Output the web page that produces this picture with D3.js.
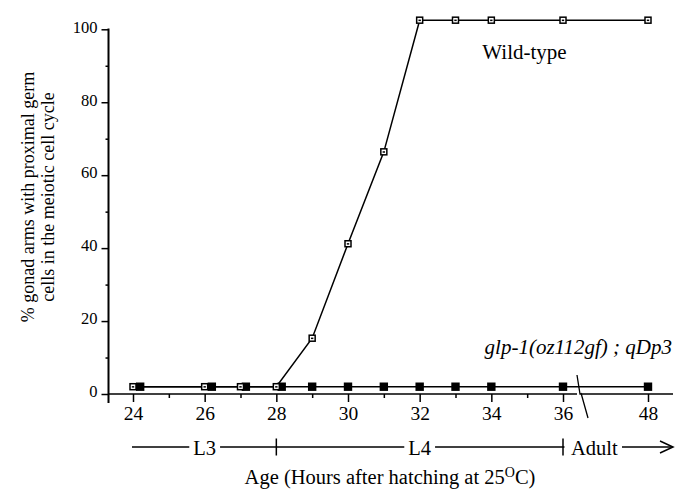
<!DOCTYPE html>
<html>
<head>
<meta charset="utf-8">
<script src="https://cdn.jsdelivr.net/npm/d3@7"></script>
<style>
  body { margin: 0; background: #fff; }
  svg text { font-family: 'Liberation Serif', 'Times New Roman', serif; fill: #000; }
  .axis path { display: none; }
  .axis line { stroke: #000; stroke-width: 1.5; }
</style>
</head>
<body>
<svg width="683" height="489"></svg>
<script>
// data
const wildHours = [24, 26, 27, 28, 29, 30, 31, 32, 33, 34, 36, 48]
const wildValues = [2, 2, 2, 2, 15.3, 41.2, 66.4, 102.5, 102.5, 102.5, 102.5, 102.5]
const glpHours = [24.2, 26.2, 27.15, 28.15, 29, 30, 31, 32, 33, 34, 36, 48]
const glpValues = [2, 2, 2, 2, 2, 2, 2, 2, 2, 2, 2, 2]
const xTicks = [24, 26, 28, 30, 32, 34, 36, 48]
const xMinorTicks = [25, 27, 29, 31, 33, 35]
const yTicks = [0, 20, 40, 60, 80, 100]
const yMinorTicks = [10, 30, 50, 70, 90]
const stageBounds = [24, 28, 36]
const stageLabels = ["L3", "L4", "Adult"]

const svg = d3.select('svg')
const serif = 'Liberation Serif'

// scales (x axis is broken between 36 and 48)
const xScale = d3.scaleLinear()
    .domain([24, 36, 48])
    .range([133, 563, 648])
const yScale = d3.scaleLinear()
    .domain([0, 100])
    .range([394, 29.3])

const axisX0 = 108.5
const baseY = yScale(0)

// y axis
svg.append('line')
    .attr('x1', axisX0).attr('x2', axisX0)
    .attr('y1', yScale(100) - 0.7).attr('y2', baseY + 9)
    .attr('stroke', '#000').attr('stroke-width', 2)

const yAxis = svg.append('g')
    .attr('class', 'axis')
    .attr('transform', `translate(${axisX0},0)`)
    .call(d3.axisLeft(yScale).tickValues(yTicks).tickSize(7).tickPadding(4))
    .attr('font-family', serif)
    .attr('font-size', 16.5)
yAxis.selectAll('text').attr('y', -2.5)

svg.append('g')
    .attr('class', 'axis')
    .attr('transform', `translate(${axisX0},0)`)
    .call(d3.axisLeft(yScale).tickValues(yMinorTicks).tickSize(3).tickFormat(''))

// x axis line, with a break before 48
const breakX = 577
svg.append('line')
    .attr('x1', axisX0).attr('x2', breakX)
    .attr('y1', baseY).attr('y2', baseY)
    .attr('stroke', '#000').attr('stroke-width', 1.5)
svg.append('line')
    .attr('x1', breakX + 7).attr('x2', 673)
    .attr('y1', baseY).attr('y2', baseY)
    .attr('stroke', '#000').attr('stroke-width', 1.5)
svg.append('path')
    .attr('d', `M${breakX},${baseY - 19} L${breakX + 3},${baseY} L${breakX + 7},${baseY} M${breakX + 4},${baseY - 1} L${breakX + 11},${baseY + 24}`)
    .attr('fill', 'none')
    .attr('stroke', '#000').attr('stroke-width', 1.3)

const xAxis = svg.append('g')
    .attr('class', 'axis')
    .attr('transform', `translate(0,${baseY})`)
    .call(d3.axisBottom(xScale).tickValues(xTicks).tickSize(8))
    .attr('font-family', serif)
    .attr('font-size', 19.5)
xAxis.selectAll('text').attr('y', 26).attr('dy', 0)

svg.append('g')
    .attr('class', 'axis')
    .attr('transform', `translate(0,${baseY})`)
    .call(d3.axisBottom(xScale).tickValues(xMinorTicks).tickSize(4).tickFormat(''))

// lines
const lineGen = d3.line()
    .x(d => xScale(d[0]))
    .y(d => yScale(d[1]))

const glpData = d3.zip(glpHours, glpValues)
const wildData = d3.zip(wildHours, wildValues)

svg.append('path')
    .datum(glpData)
    .attr('d', lineGen)
    .attr('fill', 'none')
    .attr('stroke', '#000').attr('stroke-width', 1.5)

svg.append('g')
    .selectAll('rect')
    .data(glpData)
    .enter()
    .append('rect')
    .attr('x', d => xScale(d[0]) - 4.2)
    .attr('y', d => yScale(d[1]) - 4.2)
    .attr('width', 8.4).attr('height', 8.4)
    .attr('fill', '#000')

svg.append('path')
    .datum(wildData)
    .attr('d', lineGen)
    .attr('fill', 'none')
    .attr('stroke', '#000').attr('stroke-width', 1.5)

const wildPts = svg.append('g')
    .selectAll('g')
    .data(wildData)
    .enter()
    .append('g')
    .attr('transform', d => `translate(${xScale(d[0])},${yScale(d[1])})`)
wildPts.append('rect')
    .attr('x', -3).attr('y', -3)
    .attr('width', 6).attr('height', 6)
    .attr('fill', '#fff')
    .attr('stroke', '#000').attr('stroke-width', 1.5)
wildPts.append('rect')
    .attr('x', -1.2).attr('y', -0.6)
    .attr('width', 2.4).attr('height', 1.5)
    .attr('fill', '#000')

// series labels
svg.append('text')
    .attr('x', 524.5).attr('y', 58.5)
    .attr('text-anchor', 'middle')
    .attr('font-family', serif)
    .style('font-size', '21px')
    .text('Wild-type')

svg.append('text')
    .attr('x', 672).attr('y', 353.5)
    .attr('text-anchor', 'end')
    .attr('font-family', serif)
    .style('font-size', '21px')
    .style('font-style', 'italic')
    .text('glp-1(oz112gf) ; qDp3')

// stage row
const stageY = 447
svg.append('line')
    .attr('x1', xScale(24) - 1).attr('x2', 672)
    .attr('y1', stageY).attr('y2', stageY)
    .attr('stroke', '#000').attr('stroke-width', 1.5)
svg.append('path')
    .attr('d', `M660,${stageY - 6} L673,${stageY} L660,${stageY + 6}`)
    .attr('fill', 'none')
    .attr('stroke', '#000').attr('stroke-width', 1.5)
svg.selectAll('.stagetick')
    .data(stageBounds.slice(1))
    .enter()
    .append('line')
    .attr('x1', d => xScale(d)).attr('x2', d => xScale(d))
    .attr('y1', stageY - 8.5).attr('y2', stageY + 8.5)
    .attr('stroke', '#000').attr('stroke-width', 1.5)

stageLabels.forEach((lab, i) => {
    const last = i === stageLabels.length - 1
    const x = last ? xScale(stageBounds[i]) + 8 : (xScale(stageBounds[i]) + xScale(stageBounds[i + 1])) / 2
    const t = svg.append('text')
        .attr('x', x).attr('y', stageY + 7.5)
        .attr('text-anchor', last ? 'start' : 'middle')
        .attr('font-family', serif)
        .style('font-size', '20.5px')
        .text(lab)
    const bb = t.node().getBBox()
    const left = last ? xScale(stageBounds[i]) + 1.5 : bb.x - 4
    svg.insert('rect', () => t.node())
        .attr('x', left).attr('y', stageY - 3)
        .attr('width', bb.x + bb.width + 4 - left).attr('height', 6)
        .attr('fill', '#fff')
})

// axis titles
const xTitle = svg.append('text')
    .attr('x', 390).attr('y', 484)
    .attr('text-anchor', 'middle')
    .attr('font-family', serif)
    .style('font-size', '20.5px')
xTitle.append('tspan').text('Age (Hours after hatching at 25')
xTitle.append('tspan').attr('dy', -7).style('font-size', '14px').text('O')
xTitle.append('tspan').attr('dy', 7).text('C)')

const yTitle = svg.append('text')
    .attr('transform', 'translate(33.5,197) rotate(-90)')
    .attr('text-anchor', 'middle')
    .attr('font-family', serif)
    .style('font-size', '18px')
yTitle.append('tspan').attr('x', 0).attr('y', 0).text('% gonad arms with proximal germ')
yTitle.append('tspan').attr('x', 0).attr('y', 20).text('cells in the meiotic cell cycle')
</script>
</body>
</html>
